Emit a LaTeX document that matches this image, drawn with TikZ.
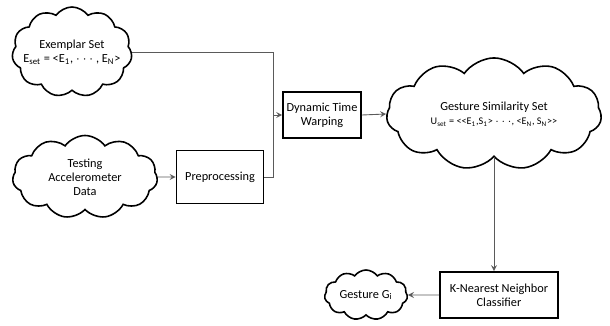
\documentclass[tikz,border=0pt]{standalone}
\usepackage{fontspec}
\setmainfont{Carlito}
\usepackage{tikz}
\usetikzlibrary{shapes,arrows,positioning,calc}
\definecolor{linegray}{RGB}{90,90,90}

\begin{document}
\begin{tikzpicture}[
    font=\fontsize{7}{8}\selectfont,
    cloudy/.style={cloud, cloud puffs=11, cloud puff arc=110, aspect=2, draw, line width=0.9pt, inner sep=0pt, align=center},
    box/.style={rectangle, draw, line width=1pt, align=center, inner sep=2pt},
    arrow/.style={->, >=stealth, draw=linegray, line width=0.5pt}
]
\useasboundingbox (0,0) rectangle (12.2,-6.52);
\node[cloudy, inner xsep=-5pt, minimum width=2.4cm, minimum height=1.8cm] (exemplar) at (1.44,-1.04)
    {Exemplar Set\\E\textsubscript{set} = <E\textsubscript{1}, $\cdots$ , E\textsubscript{N}>};
\node[cloudy, minimum width=2.9cm, minimum height=1.66cm] (testing) at (1.7,-3.54)
    {Testing\\Accelerometer\\Data};
\node[box, minimum width=1.74cm, minimum height=1.06cm] (prep) at (4.4,-3.54) {Preprocessing};
\node[box, minimum width=1.28cm, minimum height=0.92cm] (dtw) at (6.44,-2.3) {Dynamic Time\\Warping};
\node[cloudy, minimum width=4.3cm, minimum height=1.84cm] (simset) at (9.88,-2.28)
    {Gesture Similarity Set\\{\fontsize{5.8}{6.8}\selectfont U\textsubscript{set} = <{}<E\textsubscript{1},S\textsubscript{1}> $\cdots$, <E\textsubscript{N}, S\textsubscript{N}>{}>}};
\node[box, minimum width=2.36cm, minimum height=0.92cm] (knn) at (9.98,-5.9) {K-Nearest Neighbor\\Classifier};
\node[cloudy, minimum width=1.66cm, minimum height=1cm] (result) at (7.32,-5.9) {Gesture G\textsubscript{i}};

\coordinate (join) at (5.46,-2.3);
\draw[arrow] (exemplar.east) -| (join) -- (dtw.west);
\draw[arrow] (testing.east) -- (prep.west);
\draw[draw=linegray, line width=0.5pt] (prep.east) -| (join);
\draw[arrow] (dtw.east) -- (simset.west);
\draw[arrow] (simset.south) -- (simset.south |- knn.north);
\draw[arrow] (knn.west) -- (result.east);
\end{tikzpicture}
\end{document}
